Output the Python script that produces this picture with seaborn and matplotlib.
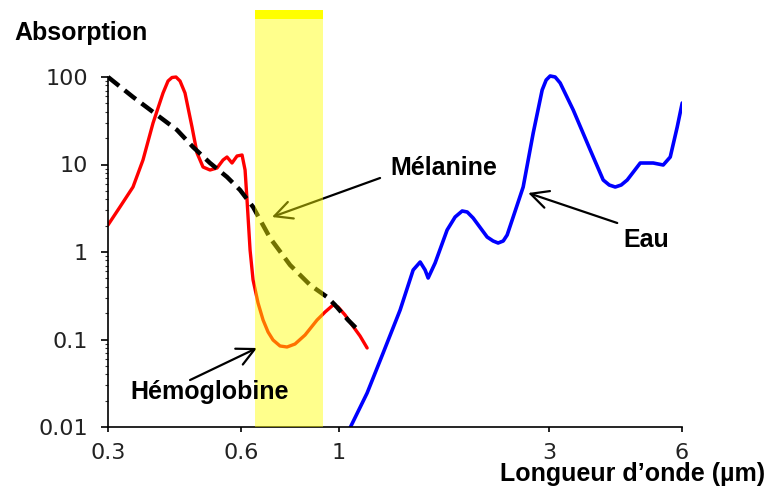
import numpy as np
import pandas as pd
import matplotlib
matplotlib.use("Agg")
import matplotlib.pyplot as plt
import seaborn as sns
from matplotlib.ticker import FixedLocator, NullLocator, NullFormatter, FixedFormatter

# ---------------- data (wavelength in µm, absorption) ----------------
hb_x = [0.300, 0.3193, 0.3418, 0.3601, 0.3795, 0.3998, 0.4104, 0.4189, 0.4278, 0.4369,
        0.4484, 0.4651,
        0.4774, 0.4926, 0.5109, 0.5300, 0.5469, 0.5583, 0.5731, 0.5883, 0.6039, 0.6135,
        0.6198, 0.6297, 0.6396, 0.6565, 0.6739, 0.6917, 0.7099, 0.7363, 0.7638, 0.7962,
        0.8391, 0.8933, 0.9315, 0.9712, 0.9968, 1.034, 1.0725, 1.118, 1.160]
hb_y = [2.035, 3.27, 5.53, 11.26, 29.8, 65.6, 90.0, 98.7, 100, 90.0,
        65.6, 26.8,
        13.53, 9.36, 8.65, 9.12, 11.26, 12.18, 10.4, 12.51, 12.84, 8.65,
        3.93, 1.054, 0.479, 0.2613, 0.1671, 0.1218, 0.0987, 0.0843, 0.0821, 0.0888,
        0.1126, 0.1671, 0.2062, 0.2479, 0.2351, 0.1905, 0.1464, 0.1096, 0.0800]

mel_x = [0.300, 0.3418, 0.3875, 0.4301, 0.4675, 0.5109, 0.5583, 0.5976, 0.6396, 0.6990,
         0.7759, 0.8614, 0.9412, 0.9813, 1.050, 1.118]
mel_y = [100, 59.1, 36.8, 24.8, 15.85, 10.4, 7.20, 5.11, 3.27, 1.445,
         0.710, 0.4198, 0.306, 0.2479, 0.1671, 0.1218]

eau_x = [1.0614, 1.160, 1.261, 1.378, 1.475, 1.530, 1.570, 1.595, 1.654, 1.761,
         1.836, 1.905, 1.956, 2.017, 2.170, 2.239, 2.298, 2.360, 2.409, 2.486,
         2.619, 2.760, 2.892, 2.953, 3.015, 3.095, 3.177, 3.401, 3.717, 3.977,
         4.104, 4.235, 4.369, 4.508, 4.825, 5.164, 5.440, 5.643, 5.852, 6.007]
eau_y = [0.0098, 0.02446, 0.0701, 0.2174, 0.6228, 0.7684, 0.6228, 0.5046, 0.7484, 1.784,
         2.512, 2.942, 2.865, 2.447, 1.484, 1.336, 1.267, 1.336, 1.564, 2.512,
         5.53, 22.9, 71.0, 92.4, 102.7, 100, 85.4, 41.97, 14.64, 6.65,
         5.83, 5.53, 5.83, 6.65, 10.4, 10.4, 9.87, 12.18, 26.8, 50.5]

band_range = [0.645, 0.92]

xticks = [0.3, 0.6, 1, 3, 6]
xticklabels = ["0.3", "0.6", "1", "3", "6"]
yticks = [0.01, 0.1, 1, 10, 100]
yticklabels = ["0.01", "0.1", "1", "10", "100"]

# ---------------- style ----------------
sns.set_theme(style="ticks")
plt.rcParams['font.family'] = ['Liberation Sans', 'DejaVu Sans']

fig = plt.figure(figsize=(7.67, 4.96), dpi=100)
ax = fig.add_axes([108 / 767, 69 / 496, 574 / 767, 417 / 496])
ax.set_xscale('log')
ax.set_yscale('log')

df_hb = pd.DataFrame({"x": hb_x, "y": hb_y})
df_mel = pd.DataFrame({"x": mel_x, "y": mel_y})
df_eau = pd.DataFrame({"x": eau_x, "y": eau_y})

sns.lineplot(data=df_hb, x="x", y="y", ax=ax, sort=False, estimator=None,
             color="#FF0000", lw=2.4, zorder=2, solid_capstyle='round', solid_joinstyle='round')
sns.lineplot(data=df_mel, x="x", y="y", ax=ax, sort=False, estimator=None,
             color="black", lw=3.2, zorder=2.5)
ax.lines[-1].set_dashes([3.2, 1.6])
ax.lines[-1].set_dash_capstyle('butt')
sns.lineplot(data=df_eau, x="x", y="y", ax=ax, sort=False, estimator=None,
             color="#0000FF", lw=2.6, zorder=2, solid_capstyle='round', solid_joinstyle='round')

# translucent yellow band over the curves
ax.axvspan(band_range[0], band_range[1], color="#FFFF00", alpha=0.45, lw=0, zorder=4)
ax.axvspan(band_range[0], band_range[1], ymin=1 - 9 / 417, ymax=1, color="#FFFF00", lw=0, zorder=5)

ax.set_xlim(0.3, 6)
ax.set_ylim(0.01, 10 ** (2 + 67 / 87.5))

# axes
for s in ["top", "right"]:
    ax.spines[s].set_visible(False)
ax.spines["left"].set_bounds(0.01, 100)
ax.spines["left"].set_linewidth(1.2)
ax.spines["bottom"].set_linewidth(1.2)
ax.spines["left"].set_color("black")
ax.spines["bottom"].set_color("black")
ax.grid(False)

ax.xaxis.set_major_locator(FixedLocator(xticks))
ax.xaxis.set_major_formatter(FixedFormatter(xticklabels))
ax.xaxis.set_minor_locator(NullLocator())
ax.yaxis.set_major_locator(FixedLocator(yticks))
ax.yaxis.set_major_formatter(FixedFormatter(yticklabels))
ax.yaxis.set_minor_locator(FixedLocator([d * k for d in yticks[:-1] for k in range(2, 10)]))
ax.yaxis.set_minor_formatter(NullFormatter())

ax.tick_params(axis='x', which='major', direction='out', length=3.5, width=1.2,
               color='black', pad=8, labelsize=16, labelcolor='#222222')
ax.tick_params(axis='y', which='major', direction='out', length=5, width=1.2,
               color='black', pad=9.5, labelsize=16, labelcolor='#222222')
ax.tick_params(axis='y', which='minor', direction='out', length=2.5, width=0.8, color='#333333')
for lab in ax.get_xticklabels() + ax.get_yticklabels():
    lab.set_family(['DejaVu Sans'])

ax.set_xlabel("")
ax.set_ylabel("")

# arrows (under the band)
arrow_kw = dict(arrowstyle='->,head_length=0.7,head_width=0.35', lw=1.6, color='black',
                mutation_scale=18, shrinkA=0, shrinkB=0)
ax.annotate("", xy=(0.706, 2.51), xytext=(1.241, 7.01), arrowprops=arrow_kw, zorder=3)
ax.annotate("", xy=(2.689, 4.725), xytext=(4.279, 2.145), arrowprops=arrow_kw, zorder=3)
ax.annotate("", xy=(0.6531, 0.080), xytext=(0.4603, 0.0344), arrowprops=arrow_kw, zorder=3)

# texts
tkw = dict(fontsize=18, fontweight='bold', color='black', va='baseline', zorder=10)
W, H = 767, 496
fig.text(14 / W, 1 - 40 / H, "Absorption", ha='left', **tkw)
fig.text(390 / W, 1 - 175 / H, "Mélanine", ha='left', **tkw)
fig.text(623 / W, 1 - 247 / H, "Eau", ha='left', **tkw)
fig.text(130 / W, 1 - 399 / H, "Hémoglobine", ha='left', **tkw)
fig.text(765 / W, 1 - 481 / H, "Longueur d\u2019onde (\u00b5m)", ha='right', **tkw)

fig.savefig("out.png", dpi=100)
